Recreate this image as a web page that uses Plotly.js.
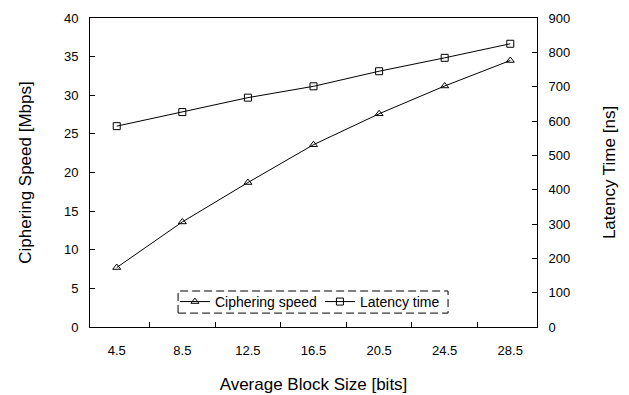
<!DOCTYPE html>
<html><head><meta charset="utf-8">
<script src="https://cdn.plot.ly/plotly-3.0.1.min.js"></script>
<style>html,body{margin:0;padding:0;background:#fff}#chart{width:629px;height:395px}</style>
</head><body><div id="chart"></div>
<script>
const blockSizes = ['4.5','8.5','12.5','16.5','20.5','24.5','28.5'];
const cipheringSpeed = [7.7, 13.6, 18.7, 23.6, 27.6, 31.2, 34.5];
const latencyTime = [585, 626, 668, 701, 745, 784, 825];

const font = {family: 'Liberation Sans, Arial, sans-serif', color: '#000'};
const traces = [
  {x: blockSizes, y: cipheringSpeed, name: 'Ciphering speed', type: 'scatter', mode: 'lines+markers',
   line: {color: '#000', width: 1}, marker: {symbol: 'triangle-up-open', size: 7, color: '#000', line: {width: 1, color: '#000'}}},
  {x: blockSizes, y: latencyTime, name: 'Latency time', type: 'scatter', mode: 'lines+markers', yaxis: 'y2',
   line: {color: '#000', width: 1}, marker: {symbol: 'square-open', size: 7, color: '#000', line: {width: 1, color: '#000'}}}
];
const layout = {
  width: 629, height: 395,
  margin: {l: 90, r: 92, t: 18, b: 68},
  paper_bgcolor: '#fff', plot_bgcolor: '#fff',
  font: Object.assign({size: 13}, font),
  showlegend: true,
  legend: {orientation: 'h', x: 0.19, xanchor: 'left', y: 0.081, yanchor: 'middle',
    bgcolor: 'rgba(0,0,0,0)', font: Object.assign({size: 14}, font),
    entrywidth: 100, entrywidthmode: 'pixels', tracegroupgap: 0},
  xaxis: {type: 'category', tickson: 'boundaries', ticks: 'inside', ticklen: 5, tickcolor: '#000',
    showline: true, linecolor: '#000', linewidth: 1, mirror: true, showgrid: false, zeroline: false,
    tickfont: Object.assign({size: 13}, font), ticklabelstandoff: 11,
    title: {text: 'Average Block Size [bits]', font: Object.assign({size: 17}, font), standoff: 21}},
  yaxis: {range: [0, 40], dtick: 5, ticks: 'inside', ticklen: 5, tickcolor: '#000',
    showline: true, linecolor: '#000', linewidth: 1, showgrid: false, zeroline: false,
    tickfont: Object.assign({size: 13}, font), ticklabelstandoff: 8,
    title: {text: 'Ciphering Speed [Mbps]', font: Object.assign({size: 17}, font), standoff: 27}},
  yaxis2: {range: [0, 900], dtick: 100, overlaying: 'y', side: 'right', ticks: 'inside', ticklen: 5, tickcolor: '#000',
    showline: true, linecolor: '#000', linewidth: 1, showgrid: false, zeroline: false,
    tickfont: Object.assign({size: 13}, font), ticklabelstandoff: 8,
    title: {text: 'Latency Time [ns]', font: Object.assign({size: 17}, font), standoff: 33}},
  shapes: [{type: 'rect', xref: 'paper', yref: 'paper', x0: 0.197, x1: 0.801, y0: 0.045, y1: 0.1165,
    line: {color: '#000', width: 1, dash: '8px,4px'}, fillcolor: 'rgba(0,0,0,0)'}]
};
Plotly.newPlot('chart', traces, layout, {displayModeBar: false});
</script></body></html>
